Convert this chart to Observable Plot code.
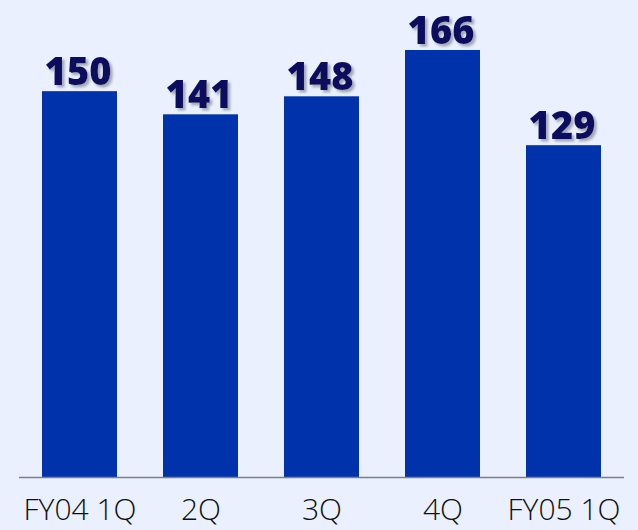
<!DOCTYPE html>
<html>
<head>
<meta charset="utf-8">
<script src="https://cdn.jsdelivr.net/npm/d3@7"></script>
<script src="https://cdn.jsdelivr.net/npm/@observablehq/plot@0.6"></script>
<style>
  html, body { margin: 0; padding: 0; background: #eaf0fd; }
  #chart svg { display: block; }
</style>
</head>
<body>
<div id="chart"></div>
<script>
const quarters = ["FY04 1Q", "2Q", "3Q", "4Q", "FY05 1Q"];
const values = [150, 141, 148, 166, 129];

const data = quarters.map((q, i) => ({quarter: q, value: values[i]}));

const chart = Plot.plot({
  width: 638,
  height: 530,
  marginLeft: 19,
  marginRight: 14,
  marginTop: 50,
  marginBottom: 53,
  style: {background: "#eaf0fd"},
  x: {domain: quarters, paddingInner: 0.38, paddingOuter: 0.19, label: null},
  y: {domain: [0, 166], axis: null},
  marks: [
    Plot.barY(data, {x: "quarter", y: "value", fill: "#0033ab"}),
    Plot.ruleY([0], {stroke: "#7a7f8c", strokeWidth: 1.5}),
    Plot.text(data, {x: "quarter", y: "value", text: d => String(d.value), lineAnchor: "bottom", dy: -7, dx: -2,
      fill: "#0c0c5e", fontSize: 38, fontWeight: 800, fontFamily: "Open Sans", className: "vlabel"}),
    Plot.axisX({tickSize: 0, tickPadding: 21, fontSize: 30, fontFamily: "Open Sans", fontWeight: 300, color: "#111", label: null})
  ]
});
// soft drop shadow on the value labels
const svg = d3.select(chart);
const defs = svg.insert("defs", ":first-child");
const f = defs.append("filter").attr("id", "vshadow").attr("x", "-20%").attr("y", "-20%").attr("width", "140%").attr("height", "140%");
f.append("feDropShadow").attr("dx", 2.5).attr("dy", 2.5).attr("stdDeviation", 0.8).attr("flood-color", "#9aa0ae").attr("flood-opacity", 0.9);
svg.selectAll("g.vlabel").attr("filter", "url(#vshadow)");
document.getElementById("chart").appendChild(chart);
</script>
</body>
</html>
